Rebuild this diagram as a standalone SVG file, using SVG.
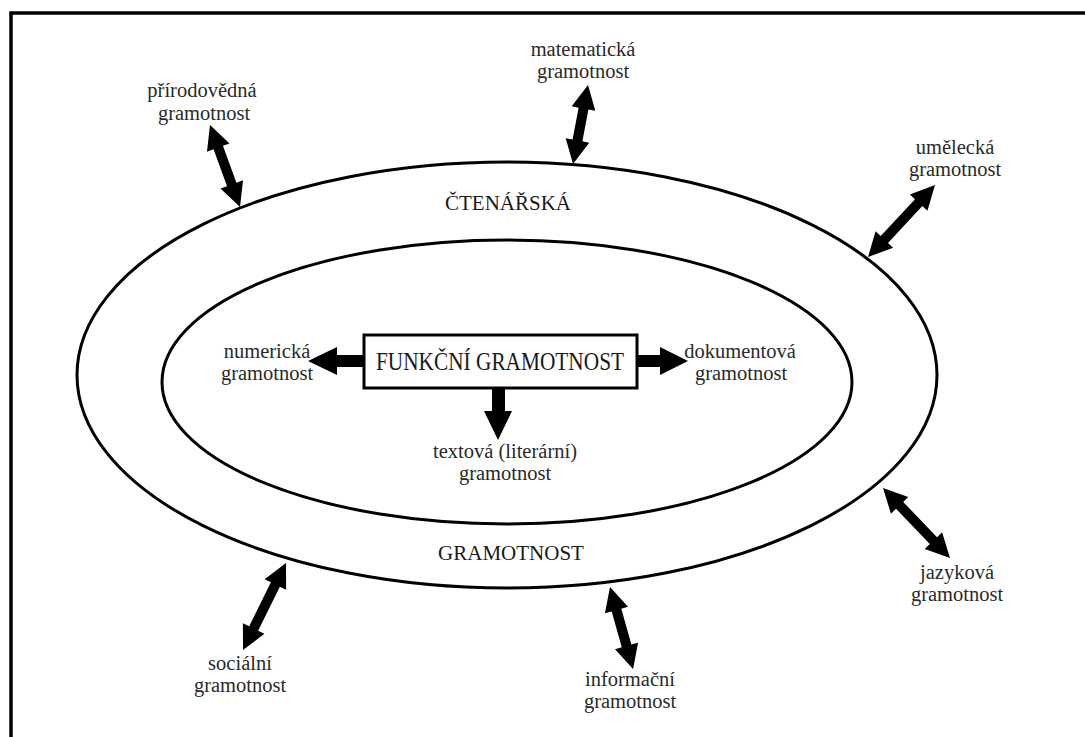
<svg xmlns="http://www.w3.org/2000/svg" width="1085" height="737" viewBox="0 0 1085 737">
<style>
.t{font-family:"Liberation Serif","Times New Roman",serif;font-size:20.5px;fill:#2a2a2a;text-anchor:middle}
.cap{font-family:"Liberation Serif","Times New Roman",serif;font-size:21px;fill:#1a1a1a;text-anchor:middle}
.ring{fill:none;stroke:#000;stroke-width:3}
.arr{fill:#000}
</style>
<rect width="1085" height="737" fill="#fff"/>
<path d="M11,737 V13 H1085" fill="none" stroke="#000" stroke-width="3.5"/>
<g id="outer-ring">
<ellipse class="ring" cx="507" cy="375" rx="430" ry="213"/>
<text class="cap" x="508" y="210">ČTENÁŘSKÁ</text>
<text class="cap" x="511" y="560">GRAMOTNOST</text>
</g>
<g id="inner-ring">
<ellipse class="ring" cx="507" cy="382" rx="345" ry="142"/>
</g>
<g id="center">
<rect x="364" y="335" width="273" height="53" fill="#fff" stroke="#000" stroke-width="3"/>
<text x="500" y="370" font-family="Liberation Serif,serif" font-size="25" fill="#1a1a1a" text-anchor="middle" textLength="248" lengthAdjust="spacingAndGlyphs">FUNKČNÍ GRAMOTNOST</text>
</g>
<g id="numericka"><text class="t" x="267" y="358">numerická</text><text class="t" x="267" y="380">gramotnost</text></g>
<g id="dokumentova"><text class="t" x="740" y="358">dokumentová</text><text class="t" x="741" y="380">gramotnost</text></g>
<g id="textova"><text class="t" x="505" y="458">textová (literární)</text><text class="t" x="505" y="480">gramotnost</text></g>
<g id="prirodovedna"><text class="t" x="202" y="97">přírodovědná</text><text class="t" x="204" y="120">gramotnost</text></g>
<g id="matematicka"><text class="t" x="583" y="56">matematická</text><text class="t" x="583" y="78">gramotnost</text></g>
<g id="umelecka"><text class="t" x="955" y="154">umělecká</text><text class="t" x="955" y="176">gramotnost</text></g>
<g id="jazykova"><text class="t" x="957" y="579">jazyková</text><text class="t" x="957" y="601">gramotnost</text></g>
<g id="socialni"><text class="t" x="240" y="670">sociální</text><text class="t" x="240" y="692">gramotnost</text></g>
<g id="informacni"><text class="t" x="630" y="686">informační</text><text class="t" x="630" y="708">gramotnost</text></g>
<g id="connectors">
<path class="arr" d="M364,355 H337 V347 L308,361 L337,375 V367 H364 Z"/>
<path class="arr" d="M637,355 H660 V347 L688,361 L660,375 V367 H637 Z"/>
<path class="arr" d="M492,388 V411 H484 L498,440 L512,411 H505 V388 Z"/>
<path class="arr" transform="translate(210,125) rotate(69.9)" d="M0,0 L24,-12 L24,-5 L63.3,-5 L63.3,-12 L87.3,0 L63.3,12 L63.3,5 L24,5 L24,12 Z"/>
<path class="arr" transform="translate(588,85) rotate(100.75)" d="M0,0 L24,-12 L24,-5 L56.4,-5 L56.4,-12 L80.4,0 L56.4,12 L56.4,5 L24,5 L24,12 Z"/>
<path class="arr" transform="translate(935,185) rotate(132.9)" d="M0,0 L24,-12 L24,-5 L74.4,-5 L74.4,-12 L98.4,0 L74.4,12 L74.4,5 L24,5 L24,12 Z"/>
<path class="arr" transform="translate(883,488) rotate(46.25)" d="M0,0 L24,-12 L24,-5 L72.9,-5 L72.9,-12 L96.9,0 L72.9,12 L72.9,5 L24,5 L24,12 Z"/>
<path class="arr" transform="translate(286,563) rotate(116.3)" d="M0,0 L24,-12 L24,-5 L73,-5 L73,-12 L97,0 L73,12 L73,5 L24,5 L24,12 Z"/>
<path class="arr" transform="translate(610,587) rotate(74.3)" d="M0,0 L24,-12 L24,-5 L61.2,-5 L61.2,-12 L85.2,0 L61.2,12 L61.2,5 L24,5 L24,12 Z"/>
</g>
</svg>
